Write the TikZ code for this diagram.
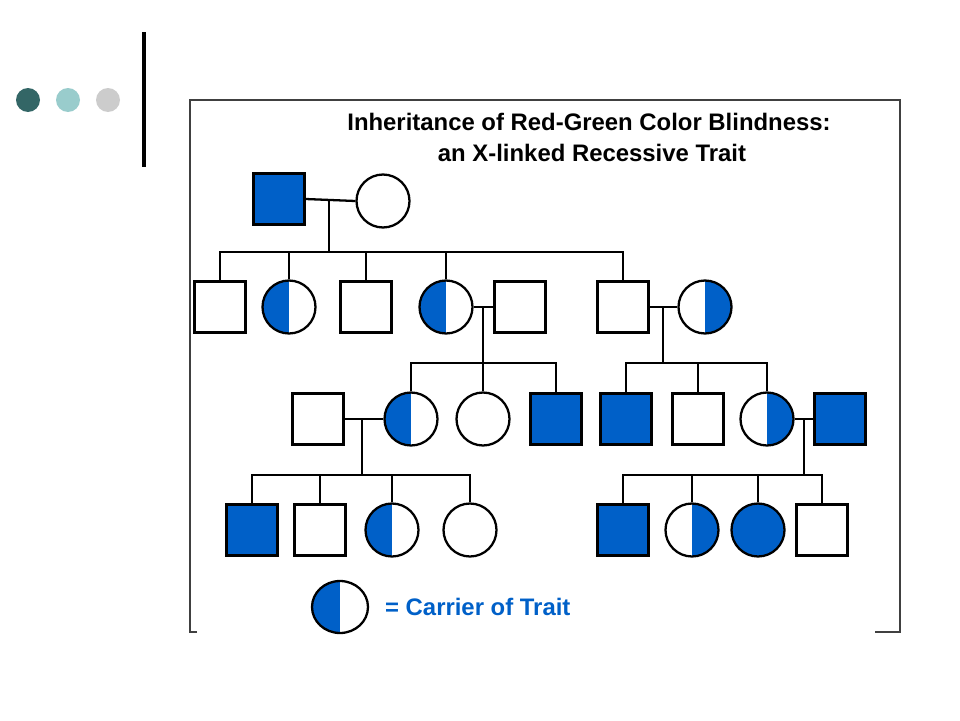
\documentclass[tikz,border=0pt]{standalone}
\usepackage{fontspec}
\setmainfont{Liberation Sans}
\usepackage{tikz}
\usetikzlibrary{positioning,shapes.geometric}
\definecolor{trait}{RGB}{0,96,200}

\begin{document}
\begin{tikzpicture}[
	x=0.02cm, y=-0.02cm
	,every node/.append style={draw, line width=1.3pt, inner sep=0pt}
	,m/.style={rectangle, minimum size=1.02cm}
	,mb/.style={m, fill=trait}
	,f/.style={circle, minimum size=1.06cm}
	,fb/.style={f, fill=trait}
	,fl/.style={f, path picture={\fill[trait] (path picture bounding box.south west) rectangle (path picture bounding box.north);}}
	,fr/.style={f, path picture={\fill[trait] (path picture bounding box.south) rectangle (path picture bounding box.north east);}}
	,line/.style={line width=1.3pt}
	,txt/.style={draw=none, font=\bfseries\fontsize{13.6}{16}\selectfont}
]
	\useasboundingbox (0,0) rectangle (960,720);
	% slide decoration
	\fill[fill={rgb,255:red,51;green,102;blue,102}] (28,100) circle (12);
	\fill[fill={rgb,255:red,153;green,204;blue,204}] (68,100) circle (12);
	\fill[fill={rgb,255:red,204;green,204;blue,204}] (108,100) circle (12);
	\fill (142,32) rectangle (146,167);
	% frame
	\draw[line width=0.8pt, black!75] (197,632) -- (190,632) -- (190,100) -- (900,100) -- (900,632) -- (875,632);
	\node [txt] (t1) at (589,122) {Inheritance of Red-Green Color Blindness:};
	\node [txt] (t2) at (592,153) {an X-linked Recessive Trait};
	% generation 1
	\node [mb] (A) at (279,199) {};
	\node [f] (B) at (383,201) {};
	% generation 2
	\node [m] (C) at (220,307) {};
	\node [fl] (D) at (289,307) {};
	\node [m] (E) at (366,307) {};
	\node [fl] (F) at (446,307) {};
	\node [m] (G) at (520,307) {};
	\node [m] (H) at (623,307) {};
	\node [fr] (I) at (705,307) {};
	% generation 3
	\node [m] (J) at (318,419) {};
	\node [fl] (K) at (411,419) {};
	\node [f] (L) at (483,419) {};
	\node [mb] (M) at (556,419) {};
	\node [mb] (N) at (626,419) {};
	\node [m] (O) at (698,419) {};
	\node [fr] (P) at (767,419) {};
	\node [mb] (Q) at (840,419) {};
	% generation 4
	\node [mb] (R) at (252,530) {};
	\node [m] (S) at (320,530) {};
	\node [fl] (T) at (392,530) {};
	\node [f] (U) at (470,530) {};
	\node [mb] (V) at (623,530) {};
	\node [fr] (W) at (692,530) {};
	\node [fb] (X) at (758,530) {};
	\node [m] (Y) at (822,530) {};
	% legend
	\node [fl, ellipse, minimum width=1.12cm, minimum height=1.04cm] (key) at (340,607) {};
	\node [draw=none, text=trait, font=\bfseries\fontsize{13.6}{16}\selectfont, anchor=west] (keytxt) at (384,607) {= Carrier of Trait};
	% couples and descents
	\coordinate (ab) at (329,201);
	\coordinate (fg) at (483,307);
	\coordinate (hi) at (663,307);
	\coordinate (jk) at (362,419);
	\coordinate (pq) at (804,419);
	\draw[line] (A.east) -- (B.west);
	\draw[line] (F.east) -- (G.west);
	\draw[line] (H.east) -- (I.west);
	\draw[line] (J.east) -- (K.west);
	\draw[line] (P.east) -- (Q.west);
	\draw[line] (ab) -- ++(0,51) coordinate (ab2);
	\draw[line] (fg) -- ++(0,56) coordinate (fg2);
	\draw[line] (hi) -- ++(0,56) coordinate (hi2);
	\draw[line] (jk) -- ++(0,56) coordinate (jk2);
	\draw[line] (pq) -- ++(0,56) coordinate (pq2);
	% sibship lines
	\draw[line] (C.north) |- (ab2) -| (H.north);
	\foreach \k in {D,E,F} \draw[line] (\k.north) -- (\k.north |- ab2);
	\draw[line] (K.north) |- (fg2) -| (M.north);
	\draw[line] (L.north) -- (L.north |- fg2);
	\draw[line] (N.north) |- (hi2) -| (P.north);
	\draw[line] (O.north) -- (O.north |- hi2);
	\draw[line] (R.north) |- (jk2) -| (U.north);
	\foreach \k in {S,T} \draw[line] (\k.north) -- (\k.north |- jk2);
	\draw[line] (V.north) |- (pq2) -| (Y.north);
	\foreach \k in {W,X} \draw[line] (\k.north) -- (\k.north |- pq2);
\end{tikzpicture}
\end{document}
